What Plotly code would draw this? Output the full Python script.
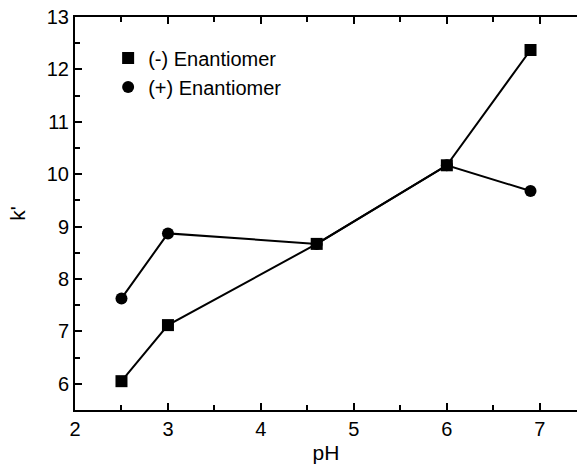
import plotly.graph_objects as go

# k' versus pH for the two enantiomers
ph = [2.5, 3.0, 4.6, 6.0, 6.9]
k_minus = [6.05, 7.12, 8.67, 10.17, 12.37]
k_plus = [7.63, 8.87, 8.67, 10.17, 9.68]

FONT = "Liberation Sans, Arial, Helvetica, sans-serif"

fig = go.Figure()
fig.add_trace(go.Scatter(
    x=ph, y=k_plus, mode="lines+markers", name="(+) Enantiomer",
    line=dict(color="black", width=2),
    marker=dict(symbol="circle", size=12, color="black"),
    showlegend=False,
))
fig.add_trace(go.Scatter(
    x=ph, y=k_minus, mode="lines+markers", name="(-) Enantiomer",
    line=dict(color="black", width=2),
    marker=dict(symbol="square", size=12, color="black"),
    showlegend=False,
))
# legend entries show the symbol only
fig.add_trace(go.Scatter(
    x=[None], y=[None], mode="markers", name="(-) Enantiomer",
    marker=dict(symbol="square", size=12, color="black"),
))
fig.add_trace(go.Scatter(
    x=[None], y=[None], mode="markers", name="(+) Enantiomer",
    marker=dict(symbol="circle", size=12, color="black"),
))

axis_common = dict(
    showgrid=False, zeroline=False, showline=True, linecolor="black", linewidth=2,
    ticks="inside", ticklen=7, tickwidth=1.5, tickcolor="black",
    tickfont=dict(family=FONT, size=20, color="black"),
)

fig.update_xaxes(
    range=[2, 7.4], dtick=1, tick0=2, mirror="ticks",
    minor=dict(dtick=0.5, ticks="inside", ticklen=5, tickcolor="black", tickwidth=1.5),
    title=dict(text="pH", font=dict(family=FONT, size=21, color="black"), standoff=6),
    **axis_common,
)
fig.update_yaxes(
    range=[5.5, 13], dtick=1, tick0=6,
    minor=dict(dtick=0.5, ticks="inside", ticklen=5, tickcolor="black", tickwidth=1.5),
    title=dict(text="k'", font=dict(family=FONT, size=21, color="black"), standoff=15),
    **axis_common,
)

fig.update_layout(
    width=577, height=470,
    margin=dict(l=75, r=0, t=17, b=60),
    paper_bgcolor="white", plot_bgcolor="white",
    showlegend=True,
    legend=dict(
        x=0.066, y=0.945, xanchor="left", yanchor="top",
        bgcolor="rgba(0,0,0,0)",
        font=dict(family=FONT, size=20, color="black"),
        itemwidth=30, tracegroupgap=0,
    ),
)

fig.write_html("out.html")
